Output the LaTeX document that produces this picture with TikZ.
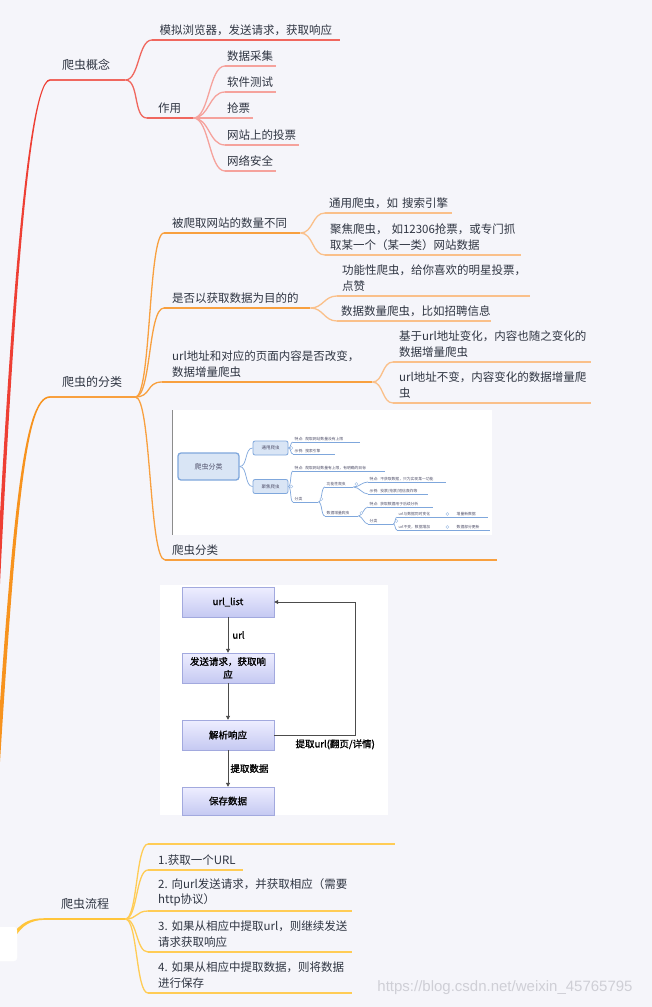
\documentclass[tikz,border=0pt]{standalone}
\usepackage{fontspec}
\usetikzlibrary{arrows.meta,calc}
\newfontfamily\cjk{Noto Sans CJK SC}
\newfontfamily\cjkbold[FakeBold=1.2]{Noto Sans CJK SC}
\newfontfamily\markfont{Liberation Sans}

\definecolor{paper}{HTML}{F5F5FA}
\definecolor{ink}{HTML}{2F3542}
\definecolor{redA}{HTML}{EE3F34}
\definecolor{redB}{HTML}{F0675E}
\definecolor{redC}{HTML}{F5A29C}
\definecolor{orA}{HTML}{F7931E}
\definecolor{orB}{HTML}{F8A03F}
\definecolor{orC}{HTML}{FAC08A}
\definecolor{yeA}{HTML}{FFC53A}
\definecolor{yeB}{HTML}{FFCC55}
\definecolor{boxtop}{HTML}{EEEEFF}
\definecolor{boxbot}{HTML}{C5C9F2}
\definecolor{boxline}{HTML}{A2A9DE}
\definecolor{mblue}{HTML}{7FA7DC}
\definecolor{mfill}{HTML}{D9E5F5}
\definecolor{mtext}{HTML}{50506A}
\definecolor{marktext}{HTML}{CFCFD6}

\tikzset{
  wrapleaf/.style={anchor=south west, inner xsep=5pt, inner ysep=4.5pt,
    align=left, text width=#1pt, text=ink, font=\cjk\fontsize{11.5}{15.5}\selectfont},
  leaf/.style={wrapleaf=#1, text depth=1pt},
  main/.style={leaf=#1, inner xsep=12pt, inner ysep=9.5pt, font=\cjk\fontsize{12}{15}\selectfont},
  uline/.style={draw=#1, line width=1.4pt},
  link/.style={draw=#1, line width=1.3pt},
  fbox/.style={draw=boxline, top color=boxtop, bottom color=boxbot, minimum width=92pt,
    minimum height=30pt, inner sep=1pt, align=center, font=\cjkbold\fontsize{9.5}{13}\selectfont},
  flowarrow/.style={->, draw=black!70, line width=0.9pt},
  flowlbl/.style={font=\cjkbold\fontsize{9.5}{12}\selectfont, inner sep=1pt},
  mroot/.style={draw=mblue, line width=1.3pt, fill=mfill, rounded corners=3pt, minimum width=61pt,
    minimum height=27pt, text=mtext, font=\cjk\fontsize{7}{8}\selectfont},
  mtopic/.style={draw=mblue, line width=0.8pt, fill=mfill, rounded corners=2pt, minimum width=35pt,
    minimum height=14pt, inner sep=0pt, text=mtext, font=\cjk\fontsize{4.5}{5}\selectfont},
  mleaf/.style={anchor=south west, inner xsep=1.5pt, inner ysep=1.3pt, text width=#1pt, text depth=0.3pt,
    text=mtext, font=\cjk\fontsize{3.8}{4.5}\selectfont},
  mlink/.style={draw=mblue, line width=0.7pt},
  mdot/.style={draw=mblue!80, fill=white, line width=0.4pt},
}

\begin{document}
\begin{tikzpicture}[x=1pt, y=-1pt, >={Triangle[length=4pt,width=4pt]}]
  \useasboundingbox (0,0) rectangle (652,1007);
  \fill[paper] (0,0) rectangle (652,1007);
  \clip (0,0) rectangle (652,1007);

  % main topics
  \node[main=51] (concept) at (50,80) {爬虫概念};
  \node[main=61] (kinds) at (50,397) {爬虫的分类};
  \node[main=48, inner xsep=16pt] (flow) at (45,919) {爬虫流程};

  % root, only its right edge is seen
  \node[fill=white, rounded corners=3pt, minimum width=58pt, minimum height=34pt] (root) at (-12,944) {};

  \fill[redA] ([xshift=-7pt]root.north) .. controls (0,450) and (22,79.2) .. ([yshift=0.8pt]concept.south west)
    -- ([yshift=-0.8pt]concept.south west) .. controls (24,80.8) and (4,450) .. ([xshift=-3pt]root.north) -- cycle;
  \fill[orA] ([xshift=-2pt]root.north) .. controls (10,520) and (22,396.2) .. ([yshift=0.8pt]kinds.south west)
    -- ([yshift=-0.8pt]kinds.south west) .. controls (24,397.8) and (14,520) .. ([xshift=2pt]root.north) -- cycle;
  \fill[yeA] ($(root.north east)+(-2,4)$) .. controls (24,921) and (32,918.2) .. ([yshift=0.8pt]flow.south west)
    -- ([yshift=-0.8pt]flow.south west) .. controls (30,920) and (22,926) .. ($(root.north east)+(-2,10)$) -- cycle;
  \node[fill=white, rounded corners=3pt, minimum width=58pt, minimum height=34pt] at (root) {};

  % 爬虫概念
  \node[leaf=173, inner xsep=7.5pt] (simul) at (152,40) {模拟浏览器，发送请求，获取响应};
  \node[leaf=24, inner xsep=11pt] (usage) at (147,118) {作用};
  \node[leaf=47, inner xsep=2pt] (u1) at (225,66) {数据采集};
  \node[leaf=47, inner xsep=2pt] (u2) at (225,92) {软件测试};
  \node[leaf=24, inner xsep=2pt] (u3) at (225,118) {抢票};
  \node[leaf=70, inner xsep=2pt] (u4) at (225,145) {网站上的投票};
  \node[leaf=47, inner xsep=2pt] (u5) at (225,171) {网络安全};

  % 爬虫的分类
  \node[leaf=120, inner xsep=8pt] (bycount) at (164,233) {被爬取网站的数量不同};
  \node[leaf=119, inner xsep=4pt] (general) at (325,213) {通用爬虫，如~搜索引擎};
  \node[wrapleaf=186] (focused) at (325,255) {聚焦爬虫，~如12306抢票，或专门抓\\取某一个（某一类）网站数据};
  \node[leaf=130, inner xsep=8pt] (bygoal) at (164,308) {是否以获取数据为目的的};
  \node[wrapleaf=183] (function) at (337,296) {功能性爬虫，给你喜欢的明星投票，\\点赞};
  \node[leaf=146, inner xsep=4pt] (datacount) at (337,321) {数据数量爬虫，比如招聘信息};
  \node[wrapleaf=190, inner xsep=10pt] (byurl) at (162,382) {url地址和对应的页面内容是否改变，\\数据增量爬虫};
  \node[wrapleaf=186, inner xsep=6pt] (urlchange) at (393,362) {基于url地址变化，内容也随之变化的\\数据增量爬虫};
  \node[wrapleaf=186, inner xsep=6pt] (urlsame) at (393,403) {url地址不变，内容变化的数据增量爬\\虫};
  \node[leaf=318, inner xsep=7pt] (kindpic) at (165,560) {爬虫分类};

  % 爬虫流程
  \node[leaf=247, inner xsep=0pt] (flowpic) at (148,844) {};
  \node[leaf=75, inner xsep=10pt] (step1) at (148,870) {1.获取一个URL};
  \node[wrapleaf=184, inner xsep=10pt] (step2) at (148,911) {2.~向url发送请求，并获取相应（需要\\http协议）};
  \node[wrapleaf=184, inner xsep=10pt] (step3) at (148,952) {3.~如果从相应中提取url，则继续发送\\请求获取响应};
  \node[wrapleaf=184, inner xsep=10pt] (step4) at (148,993) {4.~如果从相应中提取数据，则将数据\\进行保存};

  \foreach \n/\c in {concept/redB,simul/redB,usage/redB,u1/redC,u2/redC,u3/redC,u4/redC,u5/redC,
      kinds/orB,bycount/orB,bygoal/orB,byurl/orB,kindpic/orB,general/orC,focused/orC,
      function/orC,datacount/orC,urlchange/orC,urlsame/orC,
      flow/yeA,flowpic/yeB,step1/yeB,step2/yeB,step3/yeB,step4/yeB}
    \draw[uline=\c] (\n.south west) -- (\n.south east);

  \foreach \n in {simul,usage}
    \draw[link=redB] (concept.south east) .. controls +(14,0) and +(-14,0) .. (\n.south west);
  \foreach \n in {u1,u2,u3,u4,u5}
    \draw[link=redC] (usage.south east) .. controls +(16,0) and +(-16,0) .. (\n.south west);
  \foreach \n in {bycount,bygoal,byurl,kindpic}
    \draw[link=orB] (kinds.south east) .. controls +(16,0) and +(-16,0) .. (\n.south west);
  \foreach \n in {general,focused}
    \draw[link=orC] (bycount.south east) .. controls +(13,0) and +(-13,0) .. (\n.south west);
  \foreach \n in {function,datacount}
    \draw[link=orC] (bygoal.south east) .. controls +(13,0) and +(-13,0) .. (\n.south west);
  \foreach \n in {urlchange,urlsame}
    \draw[link=orC] (byurl.south east) .. controls +(11,0) and +(-11,0) .. (\n.south west);
  \foreach \n in {flowpic,step1,step2,step3,step4}
    \draw[link=yeB] (flow.south east) .. controls +(12,0) and +(-12,0) .. (\n.south west);

  % picture in 爬虫分类
  \fill[white] (172,410) rectangle (492,535);
  \draw[black!45, line width=0.8pt] (172,410) -- (172,535);
  \node[mroot] (mroot) at (208.5,466.5) {爬虫分类};
  \node[mtopic] (mgen) at (270.5,448) {通用爬虫};
  \node[mtopic] (mfoc) at (270.5,486.5) {聚焦爬虫};
  \node[mleaf=64] (g1) at (293,442) {特点: 爬取网站数量没有上限};
  \node[mleaf=39] (g2) at (293,454) {示例: 搜索引擎};
  \node[mleaf=89] (f1) at (293,471) {特点: 爬取网站数量有上限，有明确的目标};
  \node[mleaf=22] (f2) at (293,502) {分类};
  \node[mleaf=25] (f2a) at (325,487) {功能性爬虫};
  \node[mleaf=30] (f2b) at (325,516) {数据增量爬虫};
  \node[mleaf=75] (f2a1) at (368,482) {特点: 不获取数据，只为实现某一功能};
  \node[mleaf=57] (f2a2) at (368,494) {示例: 投票/抢票/短信轰炸等};
  \node[mleaf=62] (f2b1) at (368,507) {特点: 获取数据用于后续分析};
  \node[mleaf=22] (f2b2) at (368,524) {分类};
  \node[mleaf=44] (f2b2a) at (397,517) {url与数据同时变化};
  \node[mleaf=44] (f2b2b) at (397,530) {url不变，数据增加};
  \node[mleaf=30] (ext1) at (455,517) {增量新数据};
  \node[mleaf=32] (ext2) at (455,530) {数据部分更新};

  \foreach \n in {g1,g2,f1,f2,f2a,f2b,f2a1,f2a2,f2b1,f2b2,f2b2a,f2b2b,ext1,ext2}
    \draw[mlink] (\n.south west) -- (\n.south east);
  \foreach \n in {mgen,mfoc}
    \draw[mlink] (mroot.east) .. controls +(8,0) and +(-8,0) .. (\n.west);
  \foreach \n in {g1,g2}
    \draw[mlink] (mgen.east) .. controls +(3,0) and +(-3,0) .. (\n.south west);
  \foreach \n in {f1,f2}
    \draw[mlink] (mfoc.east) .. controls +(3,0) and +(-3,0) .. (\n.south west);
  \foreach \n in {f2a,f2b}
    \draw[mlink] (f2.south east) .. controls +(4,0) and +(-4,0) .. (\n.south west);
  \foreach \n in {f2a1,f2a2}
    \draw[mlink] (f2a.south east) .. controls +(6,0) and +(-6,0) .. (\n.south west);
  \foreach \n in {f2b1,f2b2}
    \draw[mlink] (f2b.south east) .. controls +(4,0) and +(-4,0) .. (\n.south west);
  \foreach \n in {f2b2a,f2b2b}
    \draw[mlink] (f2b2.south east) .. controls +(2,0) and +(-2,0) .. (\n.south west);
  \draw[mlink] (f2b2a.south east) -- (ext1.south west);
  \draw[mlink] (f2b2b.south east) -- (ext2.south west);
  \foreach \n in {mgen,mfoc}
    \draw[mdot] ([xshift=3pt]\n.east) circle (1.5pt);
  \foreach \n in {f2,f2a,f2b,f2b2,f2b2a,f2b2b}
    \draw[mdot] ([xshift=3pt,yshift=3pt]\n.south east) circle (1.5pt);

  % flow chart picture
  \fill[white] (160,585) rectangle (388,815);
  \node[fbox] (urllist) at (228,602) {url\_list};
  \node[fbox] (sendreq) at (228,668) {发送请求，获取响\\应};
  \node[fbox] (parse) at (228,735) {解析响应};
  \node[fbox, minimum height=28pt] (save) at (228,801) {保存数据};
  \draw[flowarrow] (urllist) -- node[flowlbl, right, xshift=3pt] {url} (sendreq);
  \draw[flowarrow] (sendreq) -- (parse);
  \draw[flowarrow] (parse) -- node[flowlbl, right, xshift=1pt] {提取数据} (save);
  \draw[flowarrow] (parse.east) -- ++(81,0)
    node[flowlbl, below=3pt, xshift=-20pt] {提取url(翻页/详情)} |- (urllist.east);

  \node[text=marktext, font=\markfont\fontsize{15}{15}\selectfont, inner sep=0pt] (mark) at (505,988)
    {https://blog.csdn.net/weixin\_45765795};
\end{tikzpicture}
\end{document}
